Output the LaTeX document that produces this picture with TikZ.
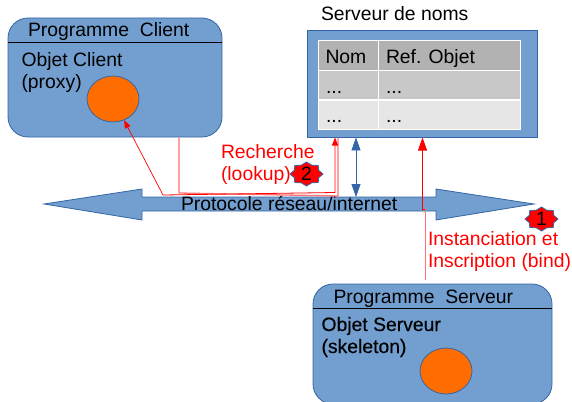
\documentclass[tikz,border=0pt]{standalone}
\usepackage{fontspec}
\setmainfont{Liberation Sans}
\usetikzlibrary{arrows.meta,shapes.geometric}
\definecolor{boxblue}{HTML}{729FCF}
\definecolor{edgeblue}{HTML}{3465A4}
\definecolor{objorange}{HTML}{FF6D00}
\definecolor{pinkline}{HTML}{FF7070}
\definecolor{rowa}{HTML}{B2B2B2}
\definecolor{rowb}{HTML}{C8C8C8}
\definecolor{rowc}{HTML}{E6E6E6}
\tikzset{
  txt/.style={anchor=base west,inner sep=0pt,outer sep=0pt,font=\fontsize{19.35}{22}\selectfont},
  redtxt/.style={txt,text=red},
  prog/.style={draw=edgeblue,fill=boxblue,line width=.8pt,rounded corners=20pt,inner sep=0pt},
  obj/.style={ellipse,draw=edgeblue,fill=objorange,line width=.8pt,inner sep=0pt,minimum width=52pt,minimum height=46pt},
  cell/.style={rectangle,draw=white,line width=1pt,inner sep=0pt},
  wire/.style={red,line width=.8pt},
  smalltip/.style={-{Triangle[length=8pt,width=6pt]}},
  bigtip/.style={-{Triangle[length=13pt,width=9pt]}},
  bluetip/.style={{Triangle[length=13pt,width=9pt]}-{Triangle[length=13pt,width=9pt]}},
  digit/.style={inner sep=0pt,font=\fontsize{19.35}{22}\selectfont},
}
\newcommand{\burst}[2]{%
  \draw[draw=edgeblue,fill=red,line width=.8pt]
    plot[samples at={0,...,15}] ({#1+16.5*cos(\x*22.5)*(mod(\x,2)==0?1:0.8)},{#2+12*sin(\x*22.5)*(mod(\x,2)==0?1:0.8)}) -- cycle;}
\begin{document}
\begin{tikzpicture}[x=1pt,y=-1pt]
\useasboundingbox (0,0) rectangle (572,401);
\clip (0,0) rectangle (572,401);
% client
\node[prog,minimum width=214pt,minimum height=119pt] (client) at (115,77.5) {};
\draw[black,line width=.8pt] (client.west |- 0,42.5) -- (client.east |- 0,42.5);
\node[txt] (clienttitle) at (28,37) {Programme\ \ Client};
\node[txt] (clientobj) at (21.5,67) {Objet Client};
\node[txt] (clientproxy) at (21.5,89) {(proxy)};
\node[obj] (cobj) at (113,99) {};
% name server
\node[rectangle,draw=edgeblue,fill=boxblue,line width=.8pt,minimum width=229.5pt,minimum height=107pt,inner sep=0pt] (ns) at (422.25,83.5) {};
\node[txt] (nstitle) at (321,21) {Serveur de noms};
\node[cell,fill=rowa,minimum width=60pt,minimum height=29.5pt] (c11) at (348,55.75) {};
\node[cell,fill=rowa,minimum width=142pt,minimum height=29.5pt] (c12) at (449,55.75) {};
\node[cell,fill=rowb,minimum width=60pt,minimum height=29.5pt] (c21) at (348,85.25) {};
\node[cell,fill=rowb,minimum width=142pt,minimum height=29.5pt] (c22) at (449,85.25) {};
\node[cell,fill=rowc,minimum width=60pt,minimum height=29.5pt] (c31) at (348,115) {};
\node[cell,fill=rowc,minimum width=142pt,minimum height=29.5pt] (c32) at (449,115) {};
\node[txt] (tnom) at (325.5,63.5) {Nom};
\node[txt] (tref) at (386,63.5) {Ref. Objet};
\node[txt] (d1) at (326,93.5) {...};
\node[txt] (d2) at (386,93.5) {...};
\node[txt] (d3) at (326,122.5) {...};
\node[txt] (d4) at (386,122.5) {...};
% network arrow
\draw[draw=edgeblue,fill=boxblue,line width=.8pt]
  (44,204) -- (142,189) -- (142,197) -- (436,197) -- (436,189) -- (534,204) -- (436,220) -- (436,211) -- (142,211) -- (142,220) -- cycle;
\coordinate (netblue) at (356,197);
\node[txt] (proto) at (181,210) {Protocole réseau/internet};
% server
\node[prog,minimum width=239pt,minimum height=120pt] (server) at (432.5,344) {};
\draw[black,line width=.8pt] (server.west |- 0,308) -- (server.east |- 0,308);
\node[txt] (servertitle) at (333.5,303) {Programme\ \ Serveur};
\node[txt] (serverobj) at (321.5,331) {\addfontfeature{FakeBold=0.3}Objet Serveur};
\node[txt] (serverskel) at (321.5,353) {\addfontfeature{FakeBold=0.3}(skeleton)};
\node[obj] (sobj) at (446,371) {};
% connectors
\coordinate (lookA) at (179,137.5);
\coordinate (lookB) at (179,193);
\coordinate (lookC) at (338,196);
\coordinate (lookD) at (338,137.5);
\draw[pinkline,line width=1.3pt] (lookA) -- (lookB) -- (lookC) -- (lookD);
\coordinate (retA) at (163,195);
\coordinate (retB) at (335,192.5);
\coordinate (retC) at (335,137.5);
\draw[wire,smalltip] (retA) -- (retB) -- (retC);
\draw[wire,line width=.7pt,smalltip] (retA) -- (cobj);
\draw[edgeblue,line width=.8pt,bluetip] (netblue) -- (netblue |- ns.south);
\coordinate (bindA) at (425,280);
\coordinate (bindB) at (425,209);
\coordinate (bindC) at (422.5,209);
\coordinate (bindD) at (422.5,137.5);
\draw[pinkline,line width=1pt] (bindA) -- (bindB);
\draw[wire,bigtip] (bindB) -- (bindC) -- (bindD);
% labels
\node[redtxt] (rech) at (221,158) {Recherche};
\node[redtxt] (look) at (221,180) {(lookup)};
\node[redtxt] (inst) at (428,245) {Instanciation et};
\node[redtxt] (insc) at (428,267) {Inscription (bind)};
\burst{306.5}{174}
\node[digit] (two) at (306.5,174) {2};
\burst{541.5}{219}
\node[digit] (one) at (541.5,219) {1};
\end{tikzpicture}
\end{document}
